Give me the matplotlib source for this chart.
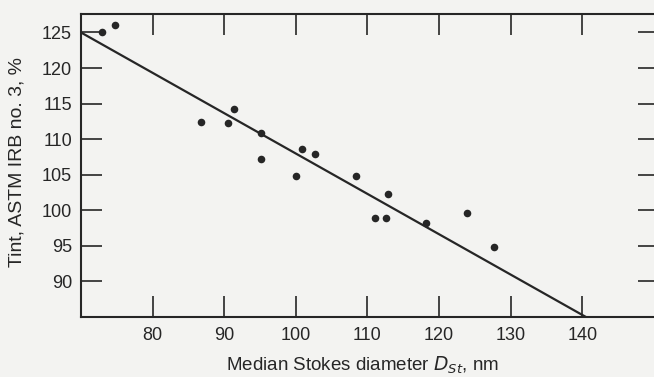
import matplotlib.pyplot as plt

# scanned points: median Stokes diameter (nm) vs tint (%)
diameter = [73.0, 74.8, 86.7, 90.5, 91.3, 95.1, 95.2, 100.0, 100.9, 102.7,
            108.4, 111.1, 112.6, 112.9, 118.1, 123.9, 127.7]
tint = [125.0, 126.0, 112.4, 112.3, 114.3, 110.9, 107.2, 104.8, 108.6, 107.9,
        104.8, 98.9, 98.9, 102.3, 98.2, 99.6, 94.9]

# fitted line end points
fit_x = [70, 140.5]
fit_y = [125, 85]

xticks = [80, 90, 100, 110, 120, 130, 140]
yticks = [90, 95, 100, 105, 110, 115, 120, 125]

ink = '#262626'
paper = '#f3f3f1'

plt.rcParams['font.family'] = ['Liberation Sans', 'DejaVu Sans']

fig = plt.figure(figsize=(6.54, 3.77), dpi=100, facecolor=paper)
ax = fig.add_axes([81 / 654, 60 / 377, 578 / 654, 303 / 377])
ax.set_facecolor(paper)

ax.plot(fit_x, fit_y, color=ink, linewidth=1.6, solid_capstyle='butt')
ax.scatter(diameter, tint, s=30, color=ink, zorder=3, linewidths=0)

ax.set_xlim(70, 150.7)
ax.set_ylim(85, 127.6)
ax.set_xticks(xticks)
ax.set_yticks(yticks)

ax.tick_params(direction='in', length=15, width=1.2, color=ink, labelcolor=ink,
               labelsize=13, top=True, right=True)
ax.tick_params(axis='x', pad=7)
ax.tick_params(axis='y', pad=6.5)
for s in ax.spines.values():
    s.set_color(ink)
    s.set_linewidth(1.5)

ax.set_xlabel('Median Stokes diameter $D_{St}$, nm', fontsize=13.5, color=ink)
ax.xaxis.set_label_coords((363 - 81) / 578, -(355 - 317) / 303)
ax.set_ylabel('Tint, ASTM IRB no. 3, %', fontsize=14, color=ink)
ax.yaxis.set_label_coords(-(81 - 26) / 578, (317 - 162) / 303)

fig.savefig('out.png', dpi=100, facecolor=paper)
